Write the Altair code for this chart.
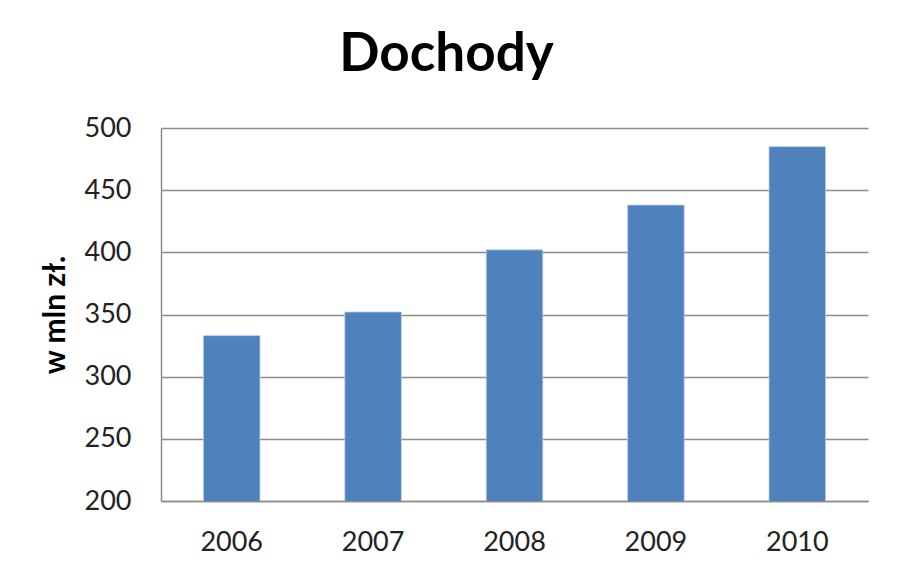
import altair as alt
import pandas as pd

years = ["2006", "2007", "2008", "2009", "2010"]
values = [333, 352, 402, 438, 485]
y_ticks = [200, 250, 300, 350, 400, 450, 500]

df = pd.DataFrame({"rok": years, "dochody": values})

chart = alt.Chart(df).mark_bar(color="#4F81BD", stroke="#B9CDE5", strokeWidth=0.8, clip=True).encode(
    x=alt.X("rok:N", sort=years, title=None,
            scale=alt.Scale(paddingInner=0.6, paddingOuter=0.3),
            axis=alt.Axis(labelAngle=0, ticks=False, labelFont="Lato", labelFontSize=27,
                          labelColor="#222222", labelPadding=28, domainColor="#8c8c8c",
                          domainWidth=1.5, grid=False)),
    y=alt.Y("dochody:Q", title="w mln zł.",
            scale=alt.Scale(domain=[200, 500], nice=False, zero=False),
            axis=alt.Axis(values=y_ticks, ticks=False, labelFont="Lato", labelFontSize=27,
                          labelColor="#222222", labelPadding=30, domainColor="#8c8c8c",
                          domainWidth=1.5, gridColor="#8c8c8c", gridWidth=1.5,
                          titleFont="Lato", titleFontSize=30, titleFontWeight="bold",
                          titleColor="#000000", titlePadding=14)),
).properties(
    width=707,
    height=373,
    title=alt.TitleParams("Dochody", font="Lato", fontSize=53, fontWeight="bold",
                          color="#000000", anchor="middle", dx=-68, offset=32),
    autosize=alt.AutoSizeParams(type="none"),
    padding={"left": 153, "top": 120, "right": 20, "bottom": 60},
).configure_view(stroke=None)

chart.save("out.html", embed_options={"renderer": "svg", "actions": False})
